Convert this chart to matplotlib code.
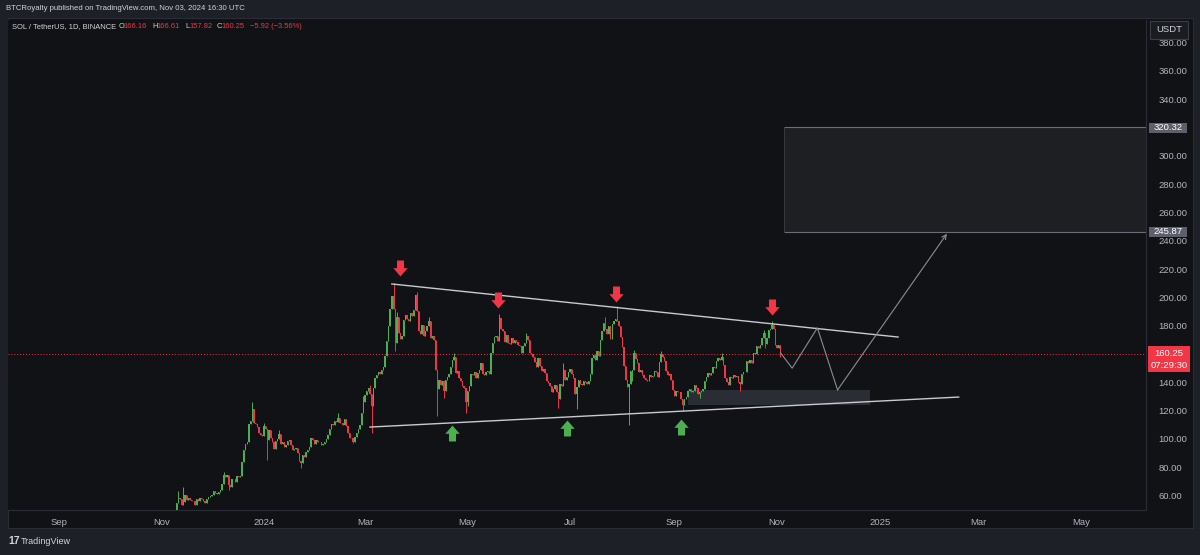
import matplotlib
matplotlib.use('Agg')
import matplotlib.pyplot as plt
import matplotlib.dates as mdates
import numpy as np
import pandas as pd
from matplotlib.path import Path
from matplotlib.patches import Rectangle

# ---------------- data ----------------
start_date = '2023-11-01'
first_open = 39.0
closes_2023_11 = [40.5, 39.9, 39.6, 41.6, 41.4, 43.2, 43.5, 44.0, 47.8, 54.6, 58.5, 57.5, 53.2, 55.4, 60.5,
                  57.0, 58.3, 57.2, 56.0, 55.9, 53.4, 57.3, 56.3, 58.4, 57.8, 56.4, 54.8, 57.7, 59.1, 59.4]
closes_2023_12 = [60.5, 63.0, 61.5, 60.8, 62.3, 63.6, 68.0, 74.5, 73.2, 74.6, 67.6, 65.8, 71.5, 72.0, 69.8, 73.5,
                  73.0, 74.0, 84.0, 92.5, 96.2, 98.0, 110.5, 113.0, 121.0, 111.0, 110.5, 108.5, 104.0, 102.5, 101.8]
closes_2024_01 = [109.0, 107.0, 99.5, 106.0, 100.5, 97.5, 93.0, 98.5, 100.0, 103.5, 96.7, 97.5, 94.5, 95.5, 98.5,
                  99.5, 96.0, 92.0, 93.0, 93.5, 89.8, 84.5, 83.0, 88.5, 87.0, 90.5, 92.5, 94.0, 101.0, 99.5, 96.5]
closes_2024_02 = [99.0, 98.0, 97.5, 95.5, 96.5, 97.5, 100.0, 102.5, 107.0, 110.5, 110.0, 112.5, 112.0, 114.5, 111.0,
                  111.5, 110.0, 114.0, 109.5, 104.0, 101.0, 100.5, 98.0, 101.5, 104.5, 107.0, 110.0, 118.0, 126.0]
closes_2024_03 = [131.0, 134.0, 136.0, 131.5, 123.0, 136.0, 143.0, 145.5, 147.0, 146.0, 149.0, 150.5, 158.5, 169.5,
                  180.0, 191.5, 201.0, 192.0, 168.0, 186.0, 175.0, 170.5, 172.5, 184.0, 187.5, 185.0, 183.0, 189.0,
                  187.0, 191.0, 202.0]
closes_2024_04 = [190.5, 176.0, 174.5, 180.5, 173.0, 176.5, 180.0, 183.5, 171.0, 172.5, 170.0, 148.5, 135.0, 142.0,
                  138.0, 141.0, 134.0, 141.5, 144.0, 146.0, 151.0, 155.5, 158.0, 146.5, 148.0, 143.0, 141.0, 137.5,
                  136.0, 126.0]
closes_2024_05 = [134.0, 137.5, 146.0, 145.0, 147.5, 143.0, 146.5, 148.5, 153.5, 146.0, 145.0, 147.0, 148.0, 146.0,
                  161.0, 168.0, 172.0, 172.5, 169.0, 185.5, 178.0, 176.0, 168.5, 173.5, 168.0, 167.0, 171.5, 168.0,
                  170.0, 168.5, 166.5]
closes_2024_06 = [166.0, 161.0, 165.5, 168.0, 173.0, 170.0, 160.5, 160.0, 158.0, 154.5, 151.0, 157.5, 151.5, 148.0,
                  149.5, 146.5, 141.0, 139.5, 137.5, 133.0, 135.5, 138.0, 133.5, 128.0, 138.5, 137.5, 148.5, 142.0,
                  143.5, 147.0]
closes_2024_07 = [149.5, 146.0, 143.0, 132.0, 137.0, 142.0, 138.5, 138.0, 141.0, 140.0, 138.5, 141.0, 146.0, 157.0,
                  159.5, 156.0, 162.0, 158.5, 170.0, 176.5, 182.0, 178.0, 174.0, 179.5, 170.5, 181.0, 183.5, 184.5,
                  183.0, 180.0, 172.0]
closes_2024_08 = [165.0, 151.5, 141.5, 137.0, 138.5, 148.0, 148.5, 161.0, 156.5, 154.0, 147.0, 148.5, 145.5, 143.0,
                  142.0, 141.0, 145.0, 143.5, 144.5, 148.0, 147.0, 144.0, 154.5, 160.0, 158.0, 155.0, 148.0, 145.0,
                  146.0, 142.0, 134.5]
closes_2024_09 = [130.5, 134.0, 133.0, 133.5, 128.0, 124.0, 128.0, 129.5, 134.0, 135.0, 133.5, 134.0, 138.0, 136.0,
                  132.0, 133.0, 134.0, 135.5, 141.0, 144.0, 146.5, 145.0, 146.5, 151.0, 150.0, 155.0, 157.0, 156.0,
                  158.0, 152.0]
closes_2024_10 = [143.0, 140.5, 138.0, 144.0, 143.0, 145.0, 144.0, 144.5, 140.0, 139.0, 146.0, 147.5, 147.0, 155.0,
                  154.0, 156.0, 153.5, 160.5, 160.0, 166.0, 164.0, 166.5, 171.0, 175.0, 167.0, 171.5, 177.0, 177.5,
                  180.5, 178.0, 166.5]
closes_2024_11 = [164.5, 166.16, 160.25]

wick_highs = {'2023-11-11': 63.0, '2023-11-14': 66.0, '2023-12-08': 77.0, '2023-12-25': 126.0,
              '2024-01-01': 111.0, '2024-01-10': 106.0, '2024-02-14': 118.0, '2024-02-29': 130.0,
              '2024-03-04': 138.0, '2024-03-18': 210.0, '2024-03-20': 190.0, '2024-04-01': 204.0,
              '2024-04-08': 186.0, '2024-04-23': 161.0, '2024-05-20': 188.0, '2024-06-05': 175.0,
              '2024-06-27': 154.0, '2024-07-22': 186.0, '2024-07-29': 194.0, '2024-08-08': 163.0,
              '2024-08-24': 162.0, '2024-09-29': 161.0, '2024-10-24': 177.0, '2024-10-29': 183.0,
              '2024-11-03': 166.61}
wick_lows = {'2023-12-11': 64.0, '2024-01-03': 85.0, '2024-01-23': 79.5, '2024-02-23': 97.0,
             '2024-03-05': 104.0, '2024-03-19': 162.0, '2024-04-13': 116.0, '2024-04-17': 129.0,
             '2024-04-30': 118.0, '2024-05-01': 123.0, '2024-06-24': 122.0, '2024-07-05': 121.0,
             '2024-08-05': 110.0, '2024-08-07': 141.0, '2024-09-06': 120.0, '2024-09-16': 129.0,
             '2024-10-10': 134.0, '2024-10-25': 164.0, '2024-11-03': 157.82}

last_price = 160.25
target_top, target_bottom = 320.32, 245.87
target_start = '2024-11-05'
zone_dates = ['2024-09-09', '2024-12-26']
zone_prices = [124.0, 134.6]
upper_line_dates = ['2024-03-17', '2025-01-12']
upper_line_prices = [209.5, 172.0]
lower_line_dates = ['2024-03-04', '2025-02-17']
lower_line_prices = [108.4, 129.6]
path_dates = ['2024-11-03', '2024-11-10', '2024-11-25', '2024-12-07', '2025-02-10']
path_prices = [161.0, 150.0, 178.5, 134.6, 245.0]
red_arrow_dates = ['2024-03-22', '2024-05-19', '2024-07-28', '2024-10-29']
red_arrow_prices = [221.0, 198.0, 202.5, 193.0]
green_arrow_dates = ['2024-04-22', '2024-06-29', '2024-09-05']
green_arrow_prices = [104.0, 107.7, 108.5]
price_ticks = [60, 80, 100, 120, 140, 180, 200, 220, 240, 260, 280, 300, 340, 360, 380]
time_tick_dates = ['2023-09-01', '2023-11-01', '2024-01-01', '2024-03-01', '2024-05-01', '2024-07-01',
                   '2024-09-01', '2024-11-01', '2025-01-01', '2025-03-01', '2025-05-01']
time_tick_labels = ['Sep', 'Nov', '2024', 'Mar', 'May', 'Jul', 'Sep', 'Nov', '2025', 'Mar', 'May']

# ---------------- style ----------------
W, H = 1200, 555
FRAME = '#1e2027'
PANEL = '#111216'
UP = '#4caf50'
DOWN = '#f23645'
TXT = '#b2b5be'
plt.rcParams['font.family'] = ['Liberation Sans', 'DejaVu Sans']

def fx(px):
    return px / W

def fy(py):
    return 1 - py / H

fig = plt.figure(figsize=(W / 100, H / 100), dpi=100, facecolor=FRAME)
# chart panel (behind the axes)
fig.patches.append(Rectangle((fx(8), fy(528)), fx(1193) - fx(8), fy(18) - fy(528),
                             transform=fig.transFigure, facecolor=PANEL, edgecolor='#2a2d35', lw=0.8, zorder=-5))
ax = fig.add_axes([fx(8), fy(510), fx(1146) - fx(8), fy(20) - fy(510)])
ax.set_zorder(1)
ax.set_facecolor(PANEL)
for s in ax.spines.values():
    s.set_visible(False)
ax.spines['right'].set_visible(True)
ax.spines['right'].set_color('#2a2d35')
ax.spines['bottom'].set_visible(True)
ax.spines['bottom'].set_color('#2a2d35')

closes = (closes_2023_11 + closes_2023_12 + closes_2024_01 + closes_2024_02 + closes_2024_03 + closes_2024_04 +
          closes_2024_05 + closes_2024_06 + closes_2024_07 + closes_2024_08 + closes_2024_09 + closes_2024_10 +
          closes_2024_11)
dates = pd.date_range(start_date, periods=len(closes), freq='D')
xd = mdates.date2num(dates.to_pydatetime())
opens = [first_open] + closes[:-1]
highs = [max(o, c) for o, c in zip(opens, closes)]
lows = [min(o, c) for o, c in zip(opens, closes)]
for k, v in wick_highs.items():
    highs[dates.get_loc(pd.Timestamp(k))] = v
for k, v in wick_lows.items():
    lows[dates.get_loc(pd.Timestamp(k))] = v

cols = [UP if c >= o else DOWN for o, c in zip(opens, closes)]
ax.vlines(xd, lows, highs, colors=cols, lw=0.7, zorder=3)
bottoms = [min(o, c) for o, c in zip(opens, closes)]
heights = [max(abs(c - o), 0.4) for o, c in zip(opens, closes)]
ax.bar(xd, heights, bottom=bottoms, width=0.8, color=cols, linewidth=0, zorder=3)

def dn(s):
    return mdates.date2num(pd.Timestamp(s).to_pydatetime())

x_left = dn('2024-01-01') - (264 - 8) / 1.682
x_right = dn('2024-01-01') + (1146 - 264) / 1.682
ax.set_xlim(x_left, x_right)
ax.set_ylim(49.8, 396.0)

# current price dotted line
ax.axhline(last_price, color=DOWN, lw=0.7, ls=(0, (1, 2)), zorder=2)

# target rectangle
ax.add_patch(Rectangle((dn(target_start), target_bottom), x_right + 50 - dn(target_start), target_top - target_bottom,
                       facecolor='#1e1f23', edgecolor='none', zorder=1))
ax.hlines([target_top, target_bottom], dn(target_start), x_right, colors='#6a6d78', lw=0.8, zorder=2)
ax.vlines(dn(target_start), target_bottom, target_top, colors='#3a3d45', lw=0.6, zorder=2)

# support zone
ax.add_patch(Rectangle((dn(zone_dates[0]), zone_prices[0]), dn(zone_dates[1]) - dn(zone_dates[0]),
                       zone_prices[1] - zone_prices[0], facecolor='#2b2d34', edgecolor='none', zorder=1.5))

# trendlines
ax.plot([dn(d) for d in upper_line_dates], upper_line_prices, color='#c8cad0', lw=1.0, zorder=4)
ax.plot([dn(d) for d in lower_line_dates], lower_line_prices, color='#c8cad0', lw=1.0, zorder=4)

# projected path
px_ = [dn(d) for d in path_dates]
ax.plot(px_[:-1], path_prices[:-1], color='#8a8d96', lw=0.8, zorder=4)
ax.annotate('', xy=(px_[-1], path_prices[-1]), xytext=(px_[-2], path_prices[-2]),
            arrowprops=dict(arrowstyle='->', color='#8a8d96', lw=0.8, mutation_scale=8,
                            shrinkA=0, shrinkB=0), zorder=4)

# block arrows
down_arrow = Path([(-0.22, 0.5), (0.22, 0.5), (0.22, 0.02), (0.45, 0.02), (0.0, -0.5), (-0.45, 0.02), (-0.22, 0.02),
                   (-0.22, 0.5)], [Path.MOVETO] + [Path.LINETO] * 6 + [Path.CLOSEPOLY])
up_arrow = Path([(x, -y) for x, y in down_arrow.vertices], down_arrow.codes)
ax.plot([dn(d) for d in red_arrow_dates], red_arrow_prices, ls='none', marker=down_arrow, markersize=11.5,
        color='#f23645', markeredgewidth=0, zorder=5)
ax.plot([dn(d) for d in green_arrow_dates], green_arrow_prices, ls='none', marker=up_arrow, markersize=11.5,
        color='#4caf50', markeredgewidth=0, zorder=5)

# axes ticks
ax.yaxis.tick_right()
ax.set_yticks(price_ticks)
ax.set_yticklabels([f'{v:.2f}' for v in price_ticks])
ax.set_xticks([dn(d) for d in time_tick_dates])
ax.set_xticklabels(time_tick_labels)
ax.tick_params(axis='y', length=0, pad=9, labelsize=6.8, labelcolor=TXT)
ax.tick_params(axis='x', length=0, pad=6, labelsize=6.8, labelcolor=TXT)

# price axis badges
def badge(y, text, fc, tc='white', h=10):
    fig.patches.append(Rectangle((fx(1149), fy(y + h / 2)), fx(1187) - fx(1149), fy(y - h / 2) - fy(y + h / 2),
                                 transform=fig.transFigure, facecolor=fc, edgecolor='none', zorder=5))
    fig.text(fx(1168), fy(y), text, color=tc, fontsize=6.8, ha='center', va='center', zorder=6)

badge(128, '320.32', '#5d606b')
badge(232, '245.87', '#5d606b')
fig.patches.append(Rectangle((fx(1148), fy(372)), fx(1190) - fx(1148), fy(346) - fy(372),
                             transform=fig.transFigure, facecolor='#f23645', edgecolor='none', zorder=5))
fig.text(fx(1169), fy(353), '160.25', color='white', fontsize=6.8, ha='center', va='center', zorder=6)
fig.text(fx(1169), fy(365), '07:29:30', color='white', fontsize=6.8, ha='center', va='center', zorder=6)
# USDT box
fig.patches.append(Rectangle((fx(1150), fy(39)), fx(1188) - fx(1150), fy(21) - fy(39),
                             transform=fig.transFigure, facecolor='#1a1c22', edgecolor='#3a3d47', lw=0.8, zorder=5))
fig.text(fx(1169), fy(30), 'USDT', color='#d1d4dc', fontsize=6.8, ha='center', va='center', zorder=6)

# header texts
fig.text(fx(6), fy(9), 'BTCRoyalty published on TradingView.com, Nov 03, 2024 16:30 UTC', color='#d1d4dc',
         fontsize=5.6, ha='left', va='center')
fig.text(fx(12), fy(27), 'SOL / TetherUS, 1D, BINANCE', color='#d1d4dc', fontsize=5.4, ha='left', va='center')
legend_parts = [(119, 'O', '#d1d4dc'), (123, '166.16', DOWN), (152, 'H', '#d1d4dc'), (156.5, '166.61', DOWN),
                (185.5, 'L', '#d1d4dc'), (189, '157.82', DOWN), (217, 'C', '#d1d4dc'), (221.5, '160.25', DOWN),
                (250, '\u22125.92 (\u22123.56%)', DOWN)]
for xp, t, c in legend_parts:
    fig.text(fx(xp), fy(27), t, color=c, fontsize=5.4, ha='left', va='center')

# footer
fig.text(fx(8), fy(541), '17', color='#d1d4dc', fontsize=7.5, fontweight='bold', ha='left', va='center')
fig.text(fx(21), fy(541), 'TradingView', color='#d1d4dc', fontsize=6.5, ha='left', va='center')

fig.savefig('out.png', dpi=100, facecolor=FRAME)
